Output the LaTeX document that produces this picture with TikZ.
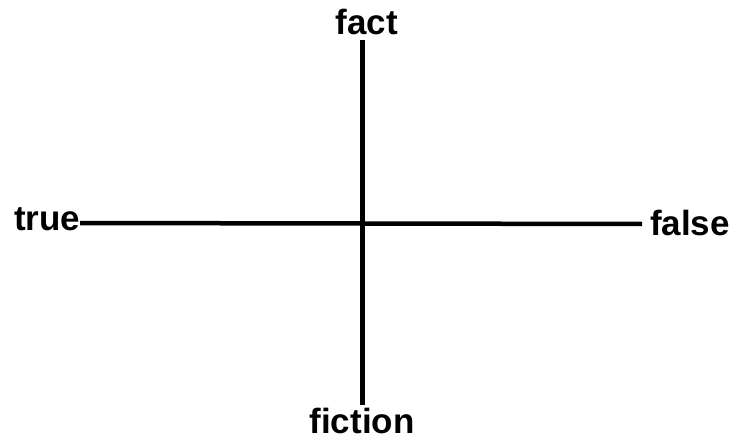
\documentclass[tikz,border=0pt]{standalone}
\usepackage{fontspec}
\setmainfont{Liberation Sans}
\begin{document}
\begin{tikzpicture}[x=1pt,y=-1pt,
  lbl/.style={inner sep=0pt,outer sep=0pt,font=\fontsize{35}{40}\selectfont\bfseries},
  axis/.style={line width=4.5pt}]
\useasboundingbox (0,0) rectangle (731,441);
\node[lbl,anchor=base] (fact) at (367,35) {fact};
\node[lbl,anchor=base] (fiction) at (362,433) {fiction};
\node[lbl,anchor=base west] (true) at (14,230) {true};
\node[lbl,anchor=base west] (false) at (650,235) {false};
\coordinate (top) at (362.5,40);
\coordinate (bottom) at (362.5,405);
\draw[axis] ([yshift=7pt]true.base east) -- ([xshift=-8pt,yshift=11pt]false.base west);
\draw[axis] (top) -- (bottom);
\end{tikzpicture}
\end{document}
